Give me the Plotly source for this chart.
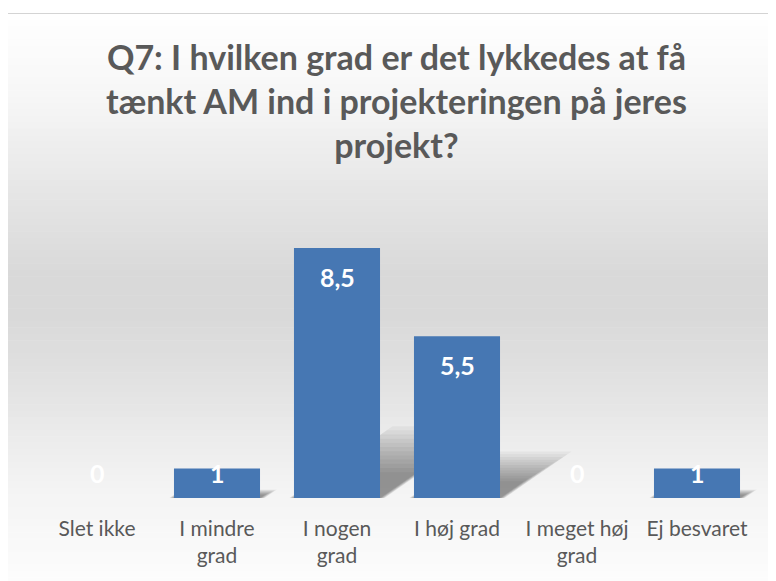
import plotly.graph_objects as go

categories = ["Slet ikke", "I mindre<br>grad", "I nogen<br>grad", "I høj grad", "I meget høj<br>grad", "Ej besvaret"]
values = [0, 1, 8.5, 5.5, 0, 1]
value_labels = ["0", "1", "8,5", "5,5", "0", "1"]
title_text = "Q7: I hvilken grad er det lykkedes at få<br>tænkt AM ind i projekteringen på jeres<br>projekt?"

OFF = 8  # default page margin of the html body
W, H = 768, 573
L, T = 29, 196
PW, PH = 720, 294
R, B = W - L - PW, H - T - PH
YMAX = 10.0
BAR_W = 0.717


def px(x):
    return (x - OFF - L) / PW


def py(y):
    return (H - B - (y - OFF)) / PH


fig = go.Figure()
fig.add_trace(go.Bar(
    x=list(range(len(categories))), y=values,
    marker=dict(color="#4677b3", line=dict(width=0)),
    width=BAR_W, hoverinfo="skip",
))

shapes = []
# background gradient stripes (white -> grey -> white)
stops = [(13, 255), (100, 246), (180, 232), (270, 217), (320, 217), (400, 229), (450, 238), (500, 245), (590, 253)]


def grey_at(y):
    for (y0, g0), (y1, g1) in zip(stops[:-1], stops[1:]):
        if y0 <= y <= y1:
            return g0 + (g1 - g0) * (y - y0) / (y1 - y0)
    return stops[-1][1]


n = 90
top, bot = 13.5, 590
for i in range(n):
    y0 = top + (bot - top) * i / n
    y1 = top + (bot - top) * (i + 1) / n
    g = int(round(grey_at((y0 + y1) / 2)))
    shapes.append(dict(type="rect", xref="paper", yref="paper", layer="below",
                       x0=px(6), x1=px(800), y0=py(y1 + 0.5), y1=py(y0),
                       fillcolor=f"rgb({g},{g},{g})", line=dict(width=0)))
shapes.append(dict(type="rect", xref="paper", yref="paper", layer="below",
                   x0=px(5.5), x1=px(800), y0=py(620), y1=py(13.5),
                   fillcolor="rgba(0,0,0,0)", line=dict(color="#d4d4d4", width=1)))

# soft perspective shadows behind bars
nl = 12
for i, v in enumerate(values):
    if v <= 0:
        continue
    for k in range(nl):
        grow = 1.25 - 0.8 * k / (nl - 1)
        dx = 0.081 * v * grow
        dy = 0.23 * v * grow
        pad = 0.05 * (grow - 0.45)
        xl, xr = i - BAR_W / 2 - pad, i + BAR_W / 2 + pad
        path = f"M {xl},0 L {xr},0 L {xr + dx},{dy} L {xl + dx},{dy} Z"
        shapes.append(dict(type="path", xref="x", yref="y", layer="below", path=path,
                           fillcolor="rgba(0,0,0,0.04)", line=dict(width=0)))

annotations = []
for i, (v, lab) in enumerate(zip(values, value_labels)):
    ly = max(v - 0.97, 0.85)
    annotations.append(dict(x=i, y=ly, xref="x", yref="y", text=f"<b>{lab}</b>",
                            showarrow=False, font=dict(family="Lato", size=25, color="white")))

annotations.append(dict(x=px(396), y=py(34), xref="paper", yref="paper", xanchor="center", yanchor="top",
                        text=f"<b>{title_text}</b>", showarrow=False,
                        font=dict(family="Lato", size=34, color="#595959")))

fig.update_layout(
    width=W, height=H,
    margin=dict(l=L, r=R, t=T, b=B),
    paper_bgcolor="white", plot_bgcolor="rgba(0,0,0,0)",
    showlegend=False,
    shapes=shapes, annotations=annotations,
    xaxis=dict(tickmode="array", tickvals=list(range(len(categories))), ticktext=categories,
               range=[-0.5, len(categories) - 0.5], showgrid=False, zeroline=False, showline=False,
               ticks="", ticklabelstandoff=16,
               tickfont=dict(family="Lato", size=21, color="#595959")),
    yaxis=dict(range=[0, YMAX], visible=False),
)
fig.write_html("out.html")
